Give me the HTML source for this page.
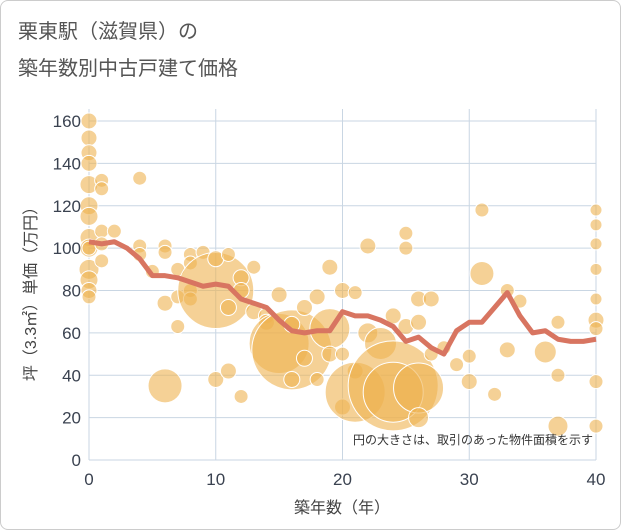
<!DOCTYPE html>
<html><head><meta charset="utf-8"><style>
body{margin:0;background:#fff;font-family:"Liberation Sans","Noto Sans CJK JP",sans-serif}
.card{position:absolute;left:0;top:0;width:619px;height:528px;border:1px solid #ccc;border-radius:8px;background:#fff}
</style></head><body>
<div class="card"></div>
<svg id="c" width="621" height="530" style="position:absolute;left:0;top:0">
<text x="18" y="38" font-size="20" fill="#555" font-family="Liberation Sans,Noto Sans CJK JP,sans-serif">栗東駅（滋賀県）の</text>
<text x="18" y="75" font-size="20" fill="#555" font-family="Liberation Sans,Noto Sans CJK JP,sans-serif">築年数別中古戸建て価格</text>
<g id="grid"></g><g id="bub"></g><g id="ln"></g><g id="ax"></g>
<text x="593" y="444" font-size="12" fill="#333" text-anchor="end" font-family="Liberation Sans,Noto Sans CJK JP,sans-serif">円の大きさは、取引のあった物件面積を示す</text>
<text x="342" y="513" font-size="16" fill="#444" text-anchor="middle" font-family="Liberation Sans,Noto Sans CJK JP,sans-serif">築年数（年）</text>
<text transform="translate(36,290) rotate(-90)" font-size="16" fill="#444" text-anchor="middle" font-family="Liberation Sans,Noto Sans CJK JP,sans-serif">坪（3.3㎡）単価（万円）</text>
</svg>
<script>
const xTicks=[0,10,20,30,40];
const yTicks=[0,20,40,60,80,100,120,140,160];
const lineYears=[0,1,2,3,4,5,6,7,8,9,10,11,12,13,14,15,16,17,18,19,20,21,22,23,24,25,26,27,28,29,30,31,32,33,34,35,36,37,38,39,40];
const linePrices=[103,102,103,100,95,87,87,86,84,82,83,82,76,74,72,66,61,60,61,61,70,68,68,66,63,56,58,53,50,61,65,65,72,79,68,60,61,57,56,56,57];
const bubAge=[0,0,0,0,0,0,0,0,0,0,0,0,0,0,1,1,1,1,1,2,4,4,4,5,6,6,6,6,7,7,7,8,8,8,8,9,10,10,10,11,11,11,12,12,12,13,13,14,14,15,15,16,16,16,17,17,18,18,19,19,19,20,20,20,21,21,21,22,22,23,24,24,24,25,25,25,26,26,26,26,27,27,28,29,30,30,31,31,32,33,33,34,36,37,37,37,40,40,40,40,40,40,40,40,40];
const bubPrice=[160,152,145,140,130,120,115,105,100,90,85,80,77,100,132,128,108,102,94,108,133,101,97,89,101,98,74,35,90,77,63,97,93,80,76,98,80,95,38,97,72,42,86,80,30,91,70,68,65,78,55,52,38,64,72,48,77,38,91,62,50,80,50,25,79,42,32,101,60,55,68,35,32,107,100,63,76,65,34,20,76,50,53,45,49,37,118,88,31,80,52,75,51,65,40,16,118,111,102,90,76,66,62,37,16];
const bubR=[8,8,8,8,9,9,9,9,9,10,9,8,7,7,7,7,7,7,7,7,7,7,7,7,7,7,8,17,7,7,7,7,7,7,7,7,38,8,8,7,8,8,8,8,7,7,8,8,8,8,30,40,8,8,8,8,8,7,8,20,8,8,7,8,7,8,30,8,10,16,8,45,30,7,7,8,8,8,25,10,8,7,7,7,7,8,7,12,7,7,8,7,11,7,7,10,6,6,6,6,6,8,7,7,7];
const X0=89,X1=596,Y0=460,Y1=121;
const sx=v=>X0+(X1-X0)*v/40, sy=v=>Y0-(Y0-Y1)*v/160;
const NS='http://www.w3.org/2000/svg';
function mk(t,a,p){const e=document.createElementNS(NS,t);for(const k in a)e.setAttribute(k,a[k]);p.appendChild(e);return e;}
const g=document.getElementById('grid'),ax=document.getElementById('ax');
yTicks.forEach(v=>{const l=mk('line',{x1:X0,x2:X1,y1:sy(v),y2:sy(v),stroke:'#c9d6e3','stroke-width':1},g);


const t=mk('text',{x:X0-8,y:sy(v)+6,'font-size':17,fill:'#3a4250','text-anchor':'end'},ax);t.textContent=v;

});
xTicks.forEach(v=>{const l=mk('line',{x1:sx(v),x2:sx(v),y1:Y1-12,y2:Y0,stroke:'#c9d6e3','stroke-width':1},g);


const t=mk('text',{x:sx(v),y:Y0+25,'font-size':17,fill:'#3a4250','text-anchor':'middle'},ax);t.textContent=v;

});
const b=document.getElementById('bub');
bubAge.forEach((a,i)=>{const c=mk('circle',{cx:sx(a),cy:sy(bubPrice[i]),r:bubR[i],fill:'rgba(238,178,80,0.6)',stroke:'#fff','stroke-width':1},b);

});
const p=mk('polyline',{points:lineYears.map((y,i)=>sx(y)+','+sy(linePrices[i])).join(' '),fill:'none',stroke:'#d87561','stroke-width':5,'stroke-linejoin':'round'},document.getElementById('ln'));


</script>
</body></html>
